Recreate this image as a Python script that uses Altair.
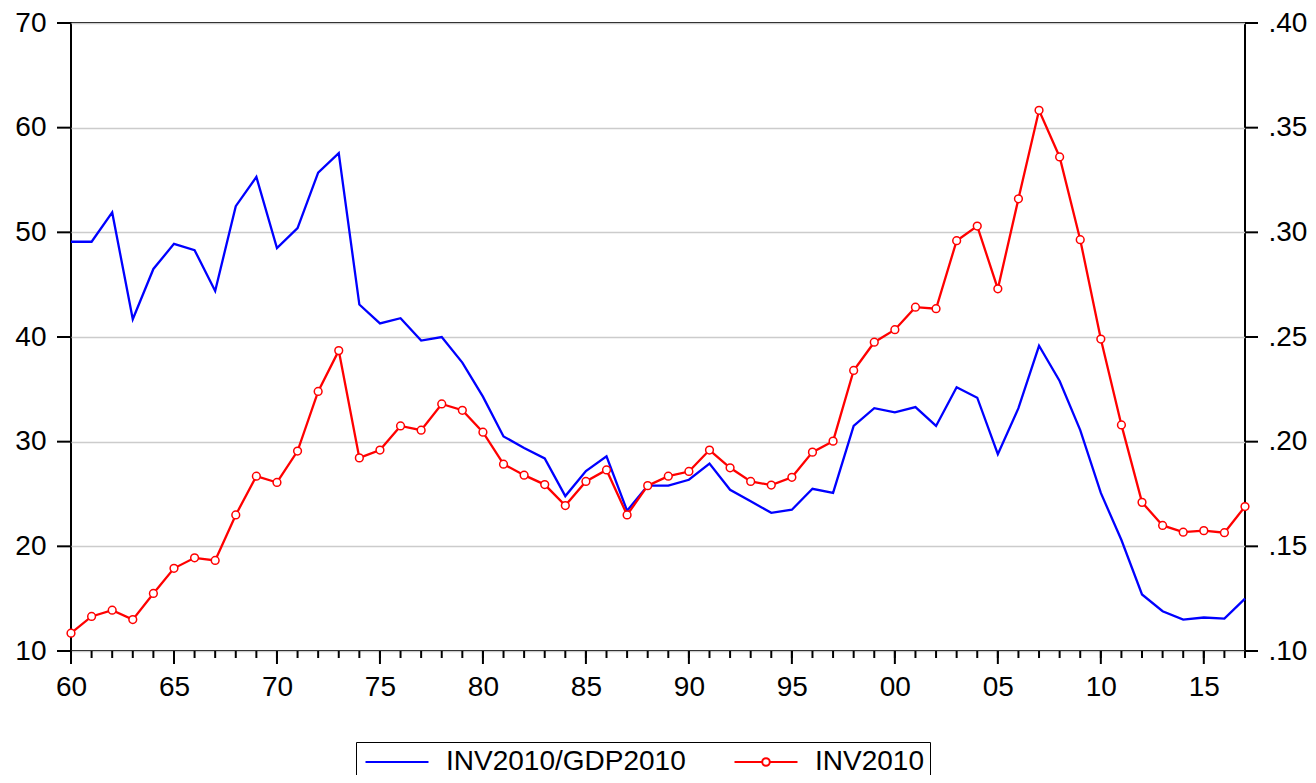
import altair as alt
import pandas as pd

years = list(range(1960, 2018))
major_years = [1960, 1965, 1970, 1975, 1980, 1985, 1990, 1995, 2000, 2005, 2010, 2015]

inv2010 = [11.7, 13.3, 13.9, 13.0, 15.5, 17.9, 18.9, 18.65, 23.0, 26.7,
           26.1, 29.1, 34.8, 38.7, 28.45, 29.2, 31.5, 31.1, 33.6, 33.0,
           30.9, 27.85, 26.8, 25.9, 23.9, 26.2, 27.3, 23.0, 25.8, 26.7,
           27.15, 29.2, 27.5, 26.2, 25.85, 26.6, 29.0, 30.05, 36.8, 39.5,
           40.7, 42.85, 42.7, 49.2, 50.6, 44.6, 53.2, 61.66, 57.2, 49.3,
           39.8, 31.6, 24.2, 22.0, 21.35, 21.5, 21.3, 23.8]

inv_gdp = [0.2955, 0.2955, 0.3095, 0.2585, 0.2825, 0.2945, 0.2915, 0.2720, 0.3125, 0.3265,
           0.2925, 0.3020, 0.3285, 0.3378, 0.2655, 0.2565, 0.2590, 0.2483, 0.2500, 0.2378,
           0.2215, 0.2025, 0.1970, 0.1920, 0.1740, 0.1860, 0.1930, 0.1670, 0.1790, 0.1790,
           0.1818, 0.1895, 0.1770, 0.1715, 0.1660, 0.1675, 0.1775, 0.1755, 0.2075, 0.2160,
           0.2140, 0.2165, 0.2075, 0.2260, 0.2210, 0.1940, 0.2160, 0.2458, 0.2290, 0.2055,
           0.1755, 0.1530, 0.1270, 0.1190, 0.1150, 0.1160, 0.1155, 0.1250]

series_names = ["INV2010/GDP2010", "INV2010"]
series_colors = ["#0000ff", "#ff0000"]
left_ticks = [10, 20, 30, 40, 50, 60, 70]
right_ticks = [0.10, 0.15, 0.20, 0.25, 0.30, 0.35, 0.40]

df = pd.DataFrame({
    "year": years + years,
    "value": inv_gdp + inv2010,
    "series": [series_names[0]] * len(years) + [series_names[1]] * len(years),
})
df_minor = pd.DataFrame({"year": years})
df_major = pd.DataFrame({"year": major_years})
df_left = pd.DataFrame({"value": left_ticks})
df_right = pd.DataFrame({"value": right_ticks})

FONT = "Liberation Sans"
W, H = 1174, 628
x_scale = alt.Scale(domain=[1960, 2017], nice=False, zero=False)

x_enc = alt.X(
    "year:Q", scale=x_scale,
    axis=alt.Axis(orient="bottom", values=major_years,
                  labelExpr="substring(toString(datum.value), 2)",
                  ticks=False, domain=False, labelOverlap=False, labelFlush=False,
                  grid=False, title=None, labelPadding=22, labelFontSize=28),
)

y_right = alt.Y("value:Q",
                scale=alt.Scale(domain=[0.10, 0.40], nice=False, zero=False),
                axis=alt.Axis(orient="right", values=right_ticks,
                              labelExpr="substring(format(datum.value, '.2f'), 1)",
                              ticks=False, domain=False,
                              grid=False, title=None, labelPadding=23,
                              labelFontSize=28, labelFlush=False, labelOverlap=False))

y_left = alt.Y("value:Q",
               scale=alt.Scale(domain=[10, 70], nice=False, zero=False),
               axis=alt.Axis(orient="left", values=left_ticks, format="d",
                             ticks=False, domain=False,
                             grid=True, gridColor="#cccccc", gridWidth=1.5,
                             title=None, labelPadding=25,
                             labelFontSize=28, labelFlush=False, labelOverlap=False))

TICK = dict(color="#000000", strokeWidth=2, clip=False, opacity=1)

# ---- blue series (right scale) ----
blue_line = alt.Chart(df).transform_filter(
    alt.datum.series == series_names[0]
).mark_line(color=series_colors[0], strokeWidth=2.3).encode(x=x_enc, y=y_right)

right_tick_marks = alt.Chart(df_right).mark_rule(**TICK).encode(
    y=y_right, x=alt.value(W), x2=alt.value(W + 13))

blue_group = alt.layer(blue_line, right_tick_marks)

# ---- red series (left scale) ----
red_base = alt.Chart(df).transform_filter(alt.datum.series == series_names[1])
red_line = red_base.mark_line(color=series_colors[1], strokeWidth=2.3).encode(x=x_enc, y=y_left)
red_pts = red_base.mark_point(shape="circle", filled=True, fill="white",
                              stroke=series_colors[1], strokeWidth=1.5,
                              size=60, opacity=1).encode(x=x_enc, y=y_left)

left_tick_marks = alt.Chart(df_left).mark_rule(**TICK).encode(
    y=y_left, x=alt.value(-14), x2=alt.value(0))

minor_x_ticks = alt.Chart(df_minor).mark_rule(**TICK).encode(
    x=x_enc, y=alt.value(H), y2=alt.value(H + 7))
major_x_ticks = alt.Chart(df_major).mark_rule(**TICK).encode(
    x=x_enc, y=alt.value(H), y2=alt.value(H + 13))

# ---- legend ----
path_line = "M-1,0L5,0"
path_line_circle = ("M-1,0L1.64,0M2.36,0L5,0"
                    "M1.64,0A0.36,0.36 0 1,0 2.36,0A0.36,0.36 0 1,0 1.64,0Z")

leg = alt.Legend(title=None, orient="none", legendX=285, legendY=719,
                 direction="horizontal", labelFontSize=28, labelFont=FONT,
                 symbolSize=441, symbolStrokeWidth=2, symbolFillColor="white",
                 strokeColor="black", padding=6, labelOffset=56,
                 columnPadding=44, labelColor="black", labelLimit=400)

legend_layer = alt.Chart(df).transform_filter("false").mark_point(
    filled=True, fill="white", strokeWidth=2, opacity=1
).encode(
    stroke=alt.Stroke("series:N", scale=alt.Scale(domain=series_names, range=series_colors), legend=leg),
    shape=alt.Shape("series:N", scale=alt.Scale(domain=series_names, range=[path_line, path_line_circle]), legend=leg),
)

red_group = alt.layer(red_line, red_pts, left_tick_marks, minor_x_ticks, major_x_ticks, legend_layer)

chart = alt.layer(blue_group, red_group).resolve_scale(
    y="independent"
).properties(
    width=W, height=H,
    autosize=alt.AutoSizeParams(type="none"),
    padding={"left": 63, "top": 15, "right": 63, "bottom": 124},
).configure_view(
    stroke="black", strokeWidth=2, clip=False
).configure_axis(
    labelFont=FONT, labelColor="black",
)

chart.save("out.html", embed_options={"renderer": "svg", "actions": False})
